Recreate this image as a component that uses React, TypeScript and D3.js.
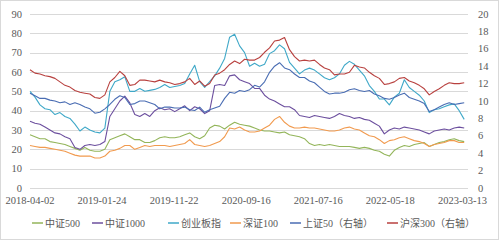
import React from "react";
import * as d3 from "d3";

// x-axis: trading-day index of each tick label
const tickLabels = ["2018-04-02", "2019-01-24", "2019-11-22", "2020-09-16", "2021-07-16", "2022-05-18", "2023-03-13"];
const tickDays = [0, 200, 400, 600, 800, 1000, 1200];
const totalDays = 1210;

const leftTicks = [0, 10, 20, 30, 40, 50, 60, 70, 80, 90];
const rightTicks = [0, 2, 4, 6, 8, 10, 12, 14, 16, 18, 20];

// left axis series (sampled)
const zz500 = [27.5, 26.5, 25.5, 25.5, 24, 23.5, 23, 22.5, 21.5, 20.5, 19.5, 21, 19.5, 19, 19, 20, 25, 26, 27, 28, 26.5, 25, 25,
  23.5, 23.5, 24.5, 26, 26.5, 26, 26, 26.5, 27.5, 28.5, 26.5, 25.5, 27, 31, 32.5, 32, 30.5, 32.5, 34, 33, 32.5, 32,
  31, 30, 29.5, 29.5, 29, 28.5, 29, 27.5, 27, 26.5, 25.5, 23, 22, 22.5, 22, 22.5, 22, 21.5, 21.5, 21.5, 21, 20.5,
  21, 20.5, 19.5, 19, 17.5, 16.5, 19.5, 21, 22, 21.5, 22.5, 23, 23.5, 21.5, 22.5, 23.5, 24, 25, 25.5, 24.5, 24];
const zz1000 = [34.5, 33.5, 33, 31.5, 30, 28.5, 28, 26.5, 25.5, 21, 20, 22, 22.5, 22, 22.5, 24, 37, 41, 45, 47.5, 44, 38, 37,
  38.5, 37, 40, 41.5, 40.5, 41, 39.5, 41, 42.5, 40, 42, 41, 38.5, 40, 53, 53.5, 53, 58, 58.5, 56, 55, 54,
  51.5, 51.5, 48, 46, 45, 43.5, 42, 42, 40.5, 37.5, 37, 36.5, 37.5, 37, 36.5, 36, 37, 38.5, 37.5, 37, 36, 36.5,
  35.5, 35, 33.5, 32, 28, 30, 31, 30.5, 31.5, 31, 30.5, 30, 29, 28, 29.5, 30, 30.5, 30, 31, 31.5, 31];
const cyb = [50, 47, 43, 41, 40.5, 38, 39, 37, 36, 33, 29.5, 31.5, 30, 29, 28.5, 31, 50, 55, 56, 57.5, 50, 50, 51.5,
  50, 50.5, 51, 52, 53.5, 52, 52.5, 53, 54, 59, 63.5, 55, 52, 55, 58, 62, 67, 78, 79.5, 73.5, 70, 63,
  64.5, 63, 64, 69.5, 71, 74, 72, 65, 62, 59, 61, 62, 61, 59, 57, 56, 57, 59, 63.5, 65.5, 64, 61,
  58, 53, 50, 46, 46, 43, 47, 49, 56, 52, 50, 48, 45, 39, 40.5, 41, 42, 43, 43.5, 40, 35.5];
const sz100 = [22, 21.5, 21, 21, 20.5, 20, 19.5, 19, 18, 17, 16.5, 16.5, 16.5, 15.5, 15.5, 16.5, 19, 19.5, 20.5, 22, 22, 20, 21,
  22, 21.5, 22, 22, 22, 21.5, 22, 22.5, 23, 25, 22.5, 22, 21.5, 22, 23, 24, 26.5, 31, 30.5, 31.5, 30, 29,
  29, 29.5, 31, 32.5, 35.5, 37, 34, 32, 31, 31, 31.5, 31, 31, 30.5, 30, 29.5, 29.5, 30, 31, 31.5, 30.5, 30,
  28.5, 27, 26.5, 25, 23, 24.5, 25, 26, 26.5, 25.5, 24.5, 24, 23, 21.5, 22.5, 23, 23.5, 24.5, 24.5, 23.5, 23.5];
// right axis series
const sz50 = [10.9, 10.6, 10.3, 10.3, 10.1, 10.0, 9.8, 9.9, 9.6, 9.8, 9.6, 9.3, 9.1, 8.6, 8.7, 9.1, 9.6, 10.2, 10.6, 10.4, 9.6, 9.7, 10.0,
  10.0, 9.8, 9.6, 9.1, 9.3, 9.3, 9.2, 9.2, 9.3, 9.0, 8.9, 9.3, 8.7, 9.0, 9.2, 9.4, 10.3, 11.0, 10.9, 11.2, 11.1, 11.3,
  11.8, 11.6, 12.2, 13.3, 14.0, 14.4, 13.8, 13.6, 13.1, 12.7, 12.7, 12.3, 12.1, 11.6, 11.1, 10.8, 10.9, 10.9, 11.0, 11.3, 11.4, 11.2,
  11.1, 11.2, 10.8, 10.6, 10.3, 10.2, 10.4, 10.7, 10.9, 10.4, 10.2, 10.0, 9.7, 8.8, 9.0, 9.3, 9.6, 9.8, 9.6, 9.7, 9.8];
const hs300 = [13.6, 13.2, 13.1, 12.9, 12.8, 12.6, 12.2, 11.8, 11.6, 11.2, 11.0, 10.9, 10.8, 10.4, 10.3, 10.7, 12.2, 12.7, 13.4, 12.9, 11.8, 11.9, 12.4,
  12.4, 12.3, 12.2, 12.4, 12.2, 12.1, 11.9, 12.0, 12.2, 12.6, 11.9, 12.3, 11.7, 12.0, 13.0, 13.2, 13.6, 14.2, 14.6, 14.3, 14.8, 14.7,
  14.7, 15.0, 15.6, 16.1, 16.9, 17.0, 17.3, 15.9, 15.1, 14.6, 14.7, 14.6, 14.7, 14.2, 13.8, 13.6, 13.0, 13.1, 13.1, 13.3, 14.1, 13.9,
  13.8, 13.3, 12.9, 12.6, 11.9, 12.0, 12.2, 12.6, 12.7, 12.3, 12.1, 11.8, 11.4, 10.7, 11.1, 11.4, 11.8, 12.1, 12.0, 12.0, 12.1];

const seriesNames = ["中证500", "中证1000", "创业板指", "深证100", "上证50（右轴）", "沪深300（右轴）"];
const seriesData = [zz500, zz1000, cyb, sz100, sz50, hs300];
const seriesAxis = ["left", "left", "left", "left", "right", "right"];
const colors = ["#93b55a", "#6c4f9e", "#3fa8c8", "#f19a4e", "#4a6db3", "#b8413f"];
const legendX = [32, 92, 168, 230, 290, 387];

const W = 499, H = 240;
const plot = { left: 30, right: 466, top: 14, bottom: 188 };
const FONT = "'Liberation Serif', 'Times New Roman', 'Noto Sans CJK SC', serif";

export default function App() {
  const x = d3.scaleLinear().domain([0, totalDays]).range([plot.left, plot.right]);
  const yL = d3.scaleLinear().domain([0, 90]).range([plot.bottom, plot.top]);
  const yR = d3.scaleLinear().domain([0, 20]).range([plot.bottom, plot.top]);
  const drawOrder = [0, 3, 1, 2, 4, 5];

  return (
    <svg width={W} height={H} style={{ position: "absolute", left: 0, top: 0, background: "#fff" }}>
      <rect x={0.5} y={0.5} width={W - 1} height={H - 1} fill="#fff" stroke="#d9d9d9" />
      {leftTicks.map((t) => (
        <line key={"g" + t} x1={plot.left} x2={468} y1={Math.round(yL(t)) + 0.5} y2={Math.round(yL(t)) + 0.5} stroke="#d9d9d9" strokeWidth={1} />
      ))}
      {leftTicks.map((t) => (
        <text key={"l" + t} x={22} y={yL(t) + 3.5} textAnchor="end" fontSize={10.5} fill="#595959" fontFamily={FONT}>{t}</text>
      ))}
      {rightTicks.map((t) => (
        <text key={"r" + t} x={478} y={yR(t) + 3.5} textAnchor="start" fontSize={10.5} fill="#595959" fontFamily={FONT}>{t}</text>
      ))}
      {tickDays.map((d, i) => (
        <text key={"x" + i} x={x(d)} y={204} textAnchor="middle" fontSize={10.5} fill="#595959" fontFamily={FONT}>{tickLabels[i]}</text>
      ))}
      {drawOrder.map((si) => {
        const data = seriesData[si];
        const ys = seriesAxis[si] === "left" ? yL : yR;
        const line = d3.line<number>().x((_, i) => x(i * (totalDays - 5) / (data.length - 1))).y((v) => ys(v));
        return <path key={"s" + si} d={line(data) || ""} fill="none" stroke={colors[si]} strokeWidth={1.1} strokeLinejoin="round" />;
      })}
      {seriesNames.map((n, i) => (
        <g key={"lg" + i}>
          <line x1={legendX[i]} x2={legendX[i] + 11} y1={223} y2={223} stroke={colors[i]} strokeWidth={1.5} />
          <text x={legendX[i] + 13} y={226.5} fontSize={10} fill="#595959" fontFamily={FONT}>{n}</text>
        </g>
      ))}
    </svg>
  );
}
